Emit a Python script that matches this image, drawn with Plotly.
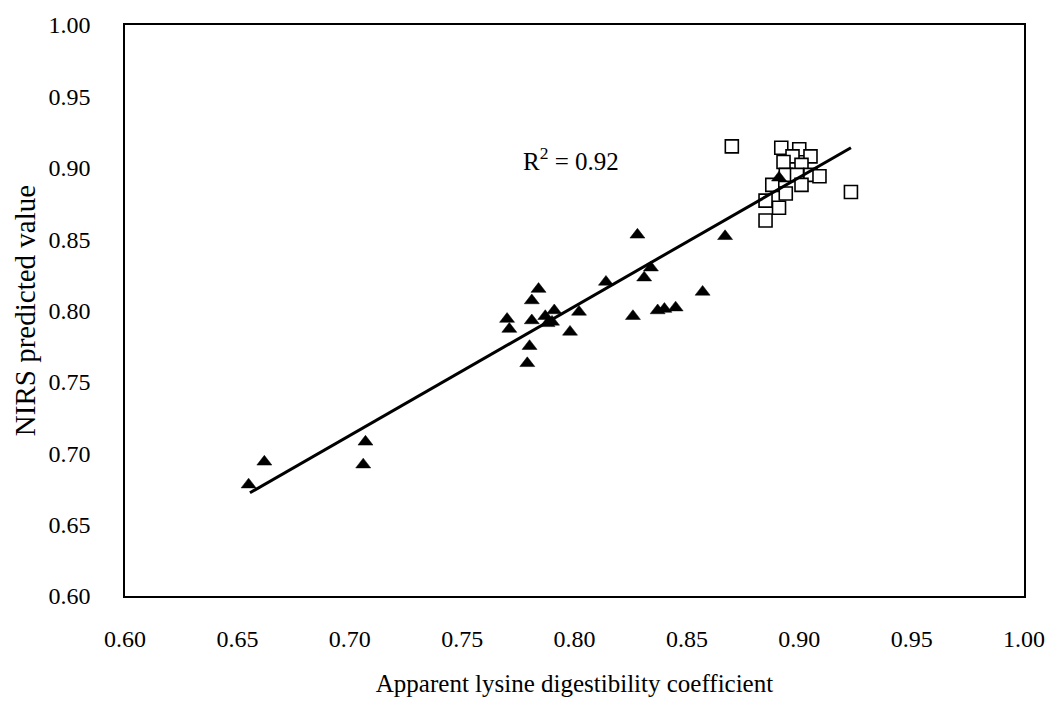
import plotly.graph_objects as go

# Triangles (filled)
tri_x = [0.655, 0.662, 0.707, 0.706, 0.770, 0.771, 0.784, 0.781, 0.781, 0.787,
         0.788, 0.791, 0.790, 0.780, 0.779, 0.798, 0.802, 0.814, 0.828, 0.867,
         0.834, 0.831, 0.857, 0.845, 0.840, 0.837, 0.826, 0.891]
tri_y = [0.678, 0.694, 0.708, 0.692, 0.794, 0.787, 0.815, 0.807, 0.793, 0.796,
         0.791, 0.800, 0.792, 0.775, 0.763, 0.785, 0.799, 0.820, 0.853, 0.852,
         0.830, 0.823, 0.813, 0.802, 0.801, 0.800, 0.796, 0.893]

# Squares (open)
sq_x = [0.870, 0.892, 0.900, 0.897, 0.905, 0.893, 0.901, 0.894, 0.899, 0.905,
        0.909, 0.888, 0.901, 0.894, 0.885, 0.891, 0.885, 0.923]
sq_y = [0.915, 0.914, 0.913, 0.908, 0.908, 0.904, 0.902, 0.895, 0.895, 0.895,
        0.894, 0.888, 0.888, 0.882, 0.877, 0.872, 0.863, 0.883]

# Trend line endpoints
trend_x = [0.6556, 0.923]
trend_y = [0.6723, 0.914]

x_ticks = [0.60, 0.65, 0.70, 0.75, 0.80, 0.85, 0.90, 0.95, 1.00]
y_ticks = [0.60, 0.65, 0.70, 0.75, 0.80, 0.85, 0.90, 0.95, 1.00]

FONT = "Liberation Serif, Times New Roman, serif"

fig = go.Figure()
fig.add_trace(go.Scatter(
    x=sq_x, y=sq_y, mode="markers",
    marker=dict(symbol="square", size=13, color="white",
                line=dict(color="black", width=1.6)),
    showlegend=False, hoverinfo="skip"))
fig.add_trace(go.Scatter(
    x=tri_x, y=tri_y, mode="markers",
    marker=dict(symbol="triangle-up", size=13, color="black",
                line=dict(color="black", width=0.5)),
    showlegend=False))
fig.add_trace(go.Scatter(
    x=trend_x, y=trend_y, mode="lines",
    line=dict(color="black", width=3),
    showlegend=False, hoverinfo="skip"))

fig.add_annotation(x=0.7985, y=0.906, text="R<sup>2</sup> = 0.92",
                   showarrow=False, font=dict(family=FONT, size=25, color="black"))

fig.update_xaxes(range=[0.60, 1.00], tickvals=x_ticks,
                 ticktext=[f"{v:.2f}" for v in x_ticks],
                 showgrid=False, zeroline=False,
                 showline=True, linecolor="black", linewidth=1.5, mirror=True,
                 ticks="outside", ticklen=20, tickcolor="rgba(0,0,0,0)",
                 tickfont=dict(family=FONT, size=24, color="black"),
                 title=dict(text="Apparent lysine digestibility coefficient",
                            font=dict(family=FONT, size=25, color="black"),
                            standoff=24))
fig.update_yaxes(range=[0.60, 1.00], tickvals=y_ticks,
                 ticktext=[f"{v:.2f}" for v in y_ticks],
                 showgrid=False, zeroline=False,
                 showline=True, linecolor="black", linewidth=1.5, mirror=True,
                 ticks="outside", ticklen=28, tickcolor="rgba(0,0,0,0)",
                 tickfont=dict(family=FONT, size=24, color="black"),
                 title=dict(text="NIRS predicted value",
                            font=dict(family=FONT, size=29, color="black"),
                            standoff=4))

fig.update_layout(width=1057, height=705,
                  margin=dict(l=125, r=33, t=20, b=108),
                  paper_bgcolor="white", plot_bgcolor="white")

fig.write_html("out.html")
